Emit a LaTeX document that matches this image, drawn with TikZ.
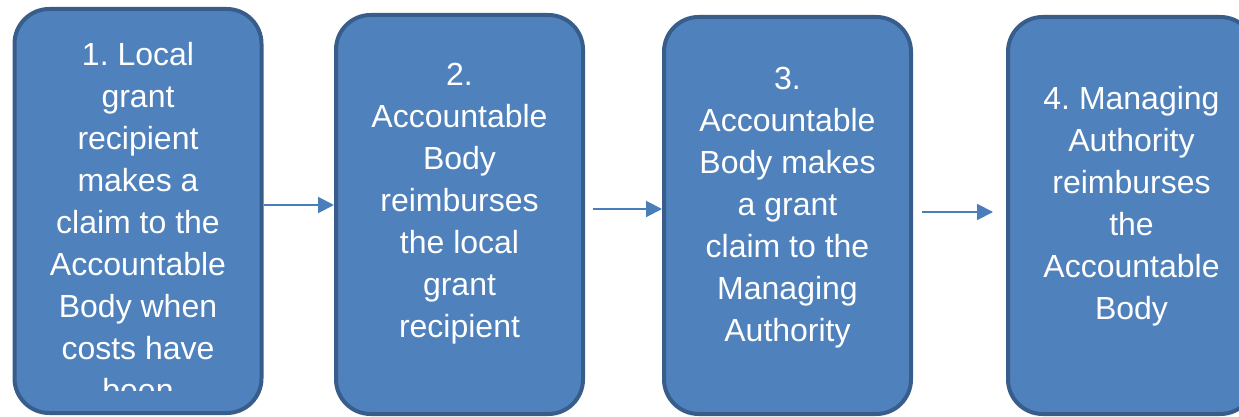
\documentclass[tikz,border=0pt]{standalone}
\usepackage{fontspec}
\setmainfont{Liberation Sans}
\usepackage{tikz}
\usetikzlibrary{arrows.meta, positioning}
\definecolor{boxfill}{HTML}{4F81BD}
\definecolor{boxline}{HTML}{385D8A}
\definecolor{flowblue}{HTML}{4A7EBB}
\frenchspacing

\begin{document}
\begin{tikzpicture}[x=0.75pt, y=-0.75pt,
    stepbox/.style={draw=boxline, fill=boxfill, line width=3pt, rounded corners=26pt,
        inner sep=0pt, minimum width=185.25pt},
    steptext/.style={text=white, align=center, inner sep=0pt, anchor=north,
        font=\fontsize{24}{31.5}\selectfont},
    flow/.style={draw=flowblue, line width=1.5pt, -{Triangle[length=12pt, width=12pt]}}]
    \useasboundingbox (0,0) rectangle (1239,417);
    \clip (0,0) rectangle (1239,417);
    \node[stepbox, minimum height=303pt] (b1) at (138,211) {};
    \node[stepbox, minimum height=299.25pt] (b2) at (459.5,214.5) {};
    \node[stepbox, minimum height=297.75pt] (b3) at (787.5,215.5) {};
    \node[stepbox, minimum height=297.75pt] (b4) at (1131.5,215.5) {};
    % the first text runs past the bottom of its box
    \begin{scope}
        \clip (b1.north west) rectangle ([yshift=18.75pt]b1.south east);
        \node[steptext] (t1) at (138,42) {1. Local\\grant\\recipient\\makes a\\claim to the\\Accountable\\Body when\\costs have\\been};
    \end{scope}
    \node[steptext] (t2) at (459.5,63) {2.\\Accountable\\Body\\reimburses\\the local\\grant\\recipient};
    \node[steptext] (t3) at (787.5,66.5) {3.\\Accountable\\Body makes\\a grant\\claim to the\\Managing\\Authority};
    \node[steptext] (t4) at (1131.5,86) {4. Managing\\Authority\\reimburses\\the\\Accountable\\Body};
    \coordinate (a1) at ([yshift=4.5pt]b1.east);
    \draw[flow] (a1) -- (a1 -| b2.west);
    \coordinate (a2) at ([shift={(8,-5.5)}]b2.east);
    \draw[flow] (a2) -- (a2 -| b3.west);
    \coordinate (a3) at ([shift={(9,-3.5)}]b3.east);
    \draw[flow] (a3) -- ([xshift=-9.75pt]a3 -| b4.west);
\end{tikzpicture}
\end{document}
